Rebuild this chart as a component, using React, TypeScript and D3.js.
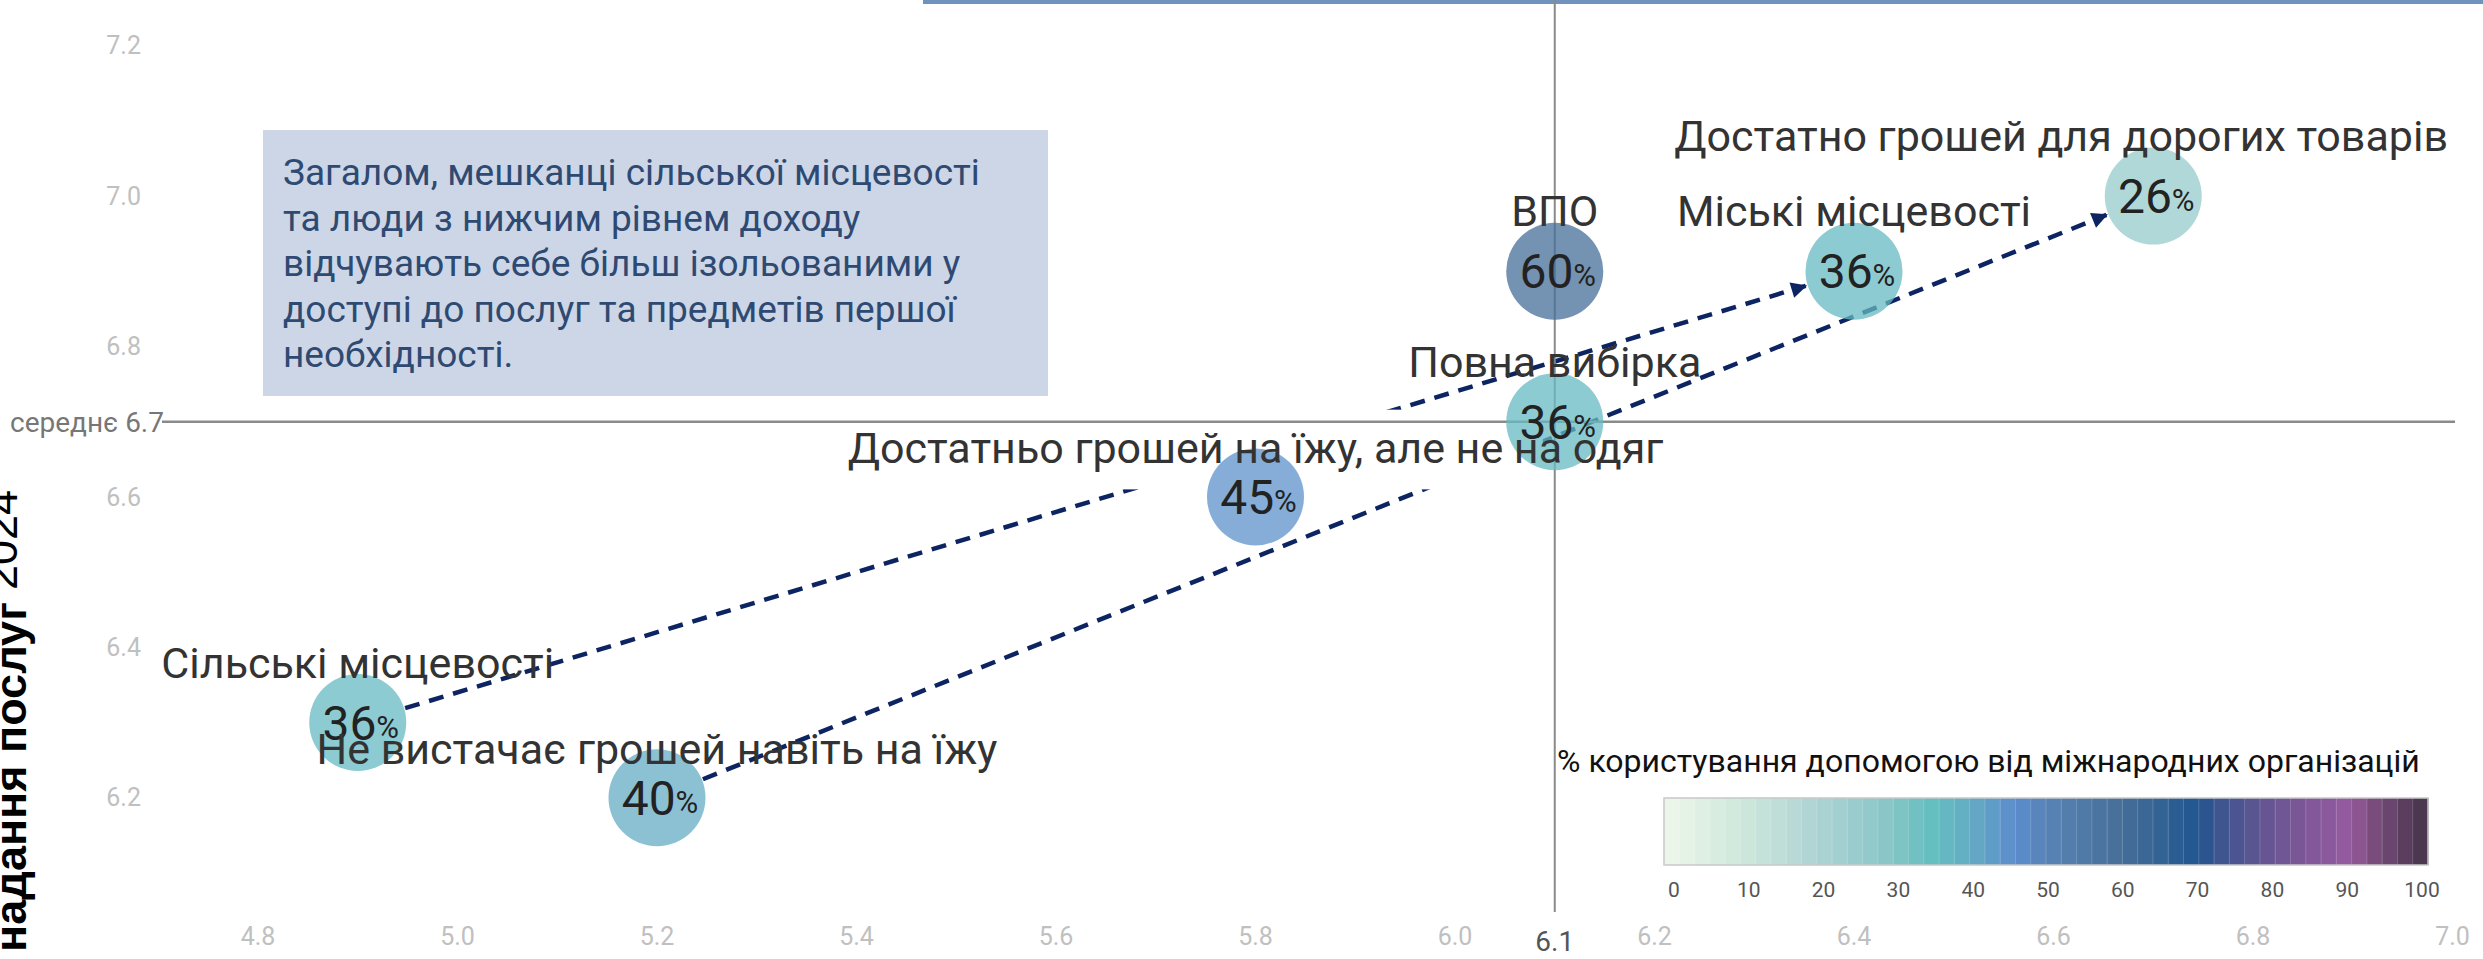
import React, { useEffect, useRef } from "react";
import * as d3 from "d3";

// ---------- data ----------
const groups = [
  "Сільські місцевості",
  "Не вистачає грошей навіть на їжу",
  "Достатньо грошей на їжу, але не на одяг",
  "Повна вибірка",
  "ВПО",
  "Міські місцевості",
  "Достатно грошей для дорогих товарів",
];
const accessScore = [4.9, 5.2, 5.8, 6.1, 6.1, 6.4, 6.7];
const serviceScore = [6.3, 6.2, 6.6, 6.7, 6.9, 6.9, 7.0];
const aidShare = [36, 40, 45, 36, 60, 36, 26];

const xTicks = [4.8, 5.0, 5.2, 5.4, 5.6, 5.8, 6.0, 6.2, 6.4, 6.6, 6.8, 7.0];
const yTicks = [6.2, 6.4, 6.6, 6.8, 7.0, 7.2];
const meanX = 6.1;
const meanY = 6.7;
const meanYLabel = "середнє 6.7";

const legendTitle = "% користування допомогою від міжнародних організацій";
const legendTicks = [0, 10, 20, 30, 40, 50, 60, 70, 80, 90, 100];
const colorStopValues = [0, 10, 20, 30, 35, 40, 46, 50, 60, 70, 72, 80, 90, 92, 100];
const colorStopColors = [
  "#eef6ea", "#cfe8dc", "#aed3d4", "#86c5c5", "#65bec0", "#64acc4", "#5b8ccc",
  "#5883b6", "#466e98", "#1f5590", "#385590", "#6c5592", "#975ba1", "#804f82", "#443349",
];

const arrowFrom = ["Сільські місцевості", "Не вистачає грошей навіть на їжу"];
const arrowTo = ["Міські місцевості", "Достатно грошей для дорогих товарів"];

const noteLines = [
  "Загалом, мешканці сільської місцевості",
  "та люди з нижчим рівнем доходу",
  "відчувають себе більш ізольованими у",
  "доступі до послуг та предметів першої",
  "необхідності.",
];

const yTitleBold = "Індекс надання послуг";
const yTitleYear = "2024";

// ---------- layout (not data) ----------
const W = 2483;
const H = 959;
const FONT = "Roboto, 'Noto Sans', sans-serif";
const TITLE_FONT = "'Liberation Sans', Arial, sans-serif";
const labelDy = [-45, -34, -34, -45, -45, -45, -45];

export default function App() {
  const ref = useRef<SVGSVGElement | null>(null);

  useEffect(() => {
    const svg = d3.select(ref.current);
    svg.selectAll("*").remove();

    const x = d3.scaleLinear().domain([4.8, 7.0]).range([258, 2452.5]);
    const y = d3.scaleLinear().domain([6.2, 7.2]).range([797.7, 45.7]);
    const color = d3
      .scaleLinear<string>()
      .domain(colorStopValues)
      .range(colorStopColors)
      .interpolate(d3.interpolateRgb);
    const R = 48.5;
    const plotRight = 2448;

    const defs = svg.append("defs");
    defs
      .append("marker")
      .attr("id", "arrowHead")
      .attr("viewBox", "0 0 10 10")
      .attr("refX", 9)
      .attr("refY", 5)
      .attr("markerWidth", 20)
      .attr("markerHeight", 16)
      .attr("markerUnits", "userSpaceOnUse")
      .attr("orient", "auto")
      .append("path")
      .attr("d", "M0,0 L10,5 L0,10 Z")
      .attr("fill", "#0c2461");

    // top decorative rule
    svg.append("rect").attr("x", 923).attr("y", 0).attr("width", W - 923).attr("height", 4).attr("fill", "#7093bd");

    // annotation box
    const note = svg.append("g");
    note.append("rect").attr("x", 263).attr("y", 130).attr("width", 785).attr("height", 266).attr("fill", "#cdd6e6");
    note
      .selectAll("text")
      .data(noteLines)
      .join("text")
      .attr("x", 283)
      .attr("y", (_d, i) => 185 + i * 45.5)
      .attr("font-family", FONT)
      .attr("font-size", 37)
      .attr("fill", "#2f4a72")
      .text((d) => d);

    // tick labels
    svg
      .append("g")
      .selectAll("text")
      .data(yTicks)
      .join("text")
      .attr("x", 141)
      .attr("y", (d) => y(d))
      .attr("dy", "0.35em")
      .attr("text-anchor", "end")
      .attr("font-family", FONT)
      .attr("font-size", 25)
      .attr("fill", "#c0c0c0")
      .text((d) => d.toFixed(1));
    svg
      .append("g")
      .selectAll("text")
      .data(xTicks)
      .join("text")
      .attr("x", (d) => x(d))
      .attr("y", 936)
      .attr("dy", "0.35em")
      .attr("text-anchor", "middle")
      .attr("font-family", FONT)
      .attr("font-size", 25)
      .attr("fill", "#c0c0c0")
      .text((d) => d.toFixed(1));

    // arrows
    const idx = (name: string) => groups.indexOf(name);
    const arrowG = svg.append("g");
    arrowFrom.forEach((from, k) => {
      const a = idx(from);
      const b = idx(arrowTo[k]);
      const x0 = x(accessScore[a]);
      const y0 = y(serviceScore[a]);
      const x1 = x(accessScore[b]);
      const y1 = y(serviceScore[b]);
      const len = Math.hypot(x1 - x0, y1 - y0);
      const ux = (x1 - x0) / len;
      const uy = (y1 - y0) / len;
      arrowG
        .append("line")
        .attr("x1", x0 + ux * (R + 1))
        .attr("y1", y0 + uy * (R + 1))
        .attr("x2", x1 - ux * (R + 2))
        .attr("y2", y1 - uy * (R + 2))
        .attr("stroke", "#0c2461")
        .attr("stroke-width", 4.5)
        .attr("stroke-dasharray", "15 10")
        .attr("marker-end", "url(#arrowHead)");
    });

    // white halo behind the middle label
    svg
      .append("rect")
      .attr("x", x(5.55))
      .attr("y", y(6.716))
      .attr("width", x(6.088) - x(5.55))
      .attr("height", y(6.61) - y(6.716))
      .attr("fill", "#ffffff");

    // mean lines
    svg
      .append("line")
      .attr("x1", 162)
      .attr("x2", 2455)
      .attr("y1", y(meanY))
      .attr("y2", y(meanY))
      .attr("stroke", "#8a8a8a")
      .attr("stroke-width", 2.5);
    svg
      .append("line")
      .attr("x1", x(meanX))
      .attr("x2", x(meanX))
      .attr("y1", 0)
      .attr("y2", 912)
      .attr("stroke", "#8a8a8a")
      .attr("stroke-width", 2);
    svg
      .append("text")
      .attr("x", 10)
      .attr("y", y(meanY))
      .attr("dy", "0.35em")
      .attr("font-family", FONT)
      .attr("font-size", 28)
      .attr("fill", "#777")
      .text(meanYLabel);
    svg
      .append("text")
      .attr("x", x(meanX))
      .attr("y", 941)
      .attr("dy", "0.35em")
      .attr("text-anchor", "middle")
      .attr("font-family", FONT)
      .attr("font-size", 28)
      .attr("fill", "#555")
      .text(String(meanX));

    // bubbles
    const pts = groups.map((g, i) => ({ g, i, cx: x(accessScore[i]), cy: y(serviceScore[i]), v: aidShare[i] }));
    svg
      .append("g")
      .selectAll("circle")
      .data(pts)
      .join("circle")
      .attr("cx", (d) => d.cx)
      .attr("cy", (d) => d.cy)
      .attr("r", R)
      .attr("fill", (d) => color(d.v))
      .attr("fill-opacity", 0.75);

    // percentages
    const pct = svg
      .append("g")
      .selectAll("text")
      .data(pts)
      .join("text")
      .attr("x", (d) => d.cx + 3)
      .attr("y", (d) => d.cy + 17)
      .attr("text-anchor", "middle")
      .attr("font-family", FONT)
      .attr("fill", "#222");
    pct.append("tspan").attr("font-size", 48).text((d) => String(d.v));
    pct.append("tspan").attr("font-size", 31).attr("dy", -2).text("%");

    // labels
    const labels = svg
      .append("g")
      .selectAll("text")
      .data(pts)
      .join("text")
      .attr("x", (d) => d.cx)
      .attr("y", (d) => d.cy + labelDy[d.i])
      .attr("text-anchor", "middle")
      .attr("font-family", FONT)
      .attr("font-size", 43)
      .attr("fill", "#333")
      .text((d) => d.g);
    labels.each(function (d) {
      const el = this as SVGTextElement;
      const w = el.getComputedTextLength();
      if (d.cx + w / 2 > plotRight) d3.select(el).attr("x", plotRight - w / 2);
    });

    // legend
    const lx = d3.scaleLinear().domain([0, 100]).range([1674, 2422]);
    const barX0 = lx(0) - 10;
    const barX1 = lx(100) + 6;
    const legend = svg.append("g");
    legend
      .append("text")
      .attr("x", 1557)
      .attr("y", 772)
      .attr("font-family", FONT)
      .attr("font-size", 32)
      .attr("fill", "#111")
      .text(legendTitle);
    const steps = d3.range(0, 100, 2);
    const sw = (barX1 - barX0) / steps.length;
    legend
      .selectAll("rect.slice")
      .data(steps)
      .join("rect")
      .attr("class", "slice")
      .attr("x", (_d, i) => barX0 + i * sw)
      .attr("y", 798)
      .attr("width", sw + 0.5)
      .attr("height", 67)
      .attr("fill", (d) => color(d + 1));
    legend
      .selectAll("line.sep")
      .data(steps.slice(1))
      .join("line")
      .attr("class", "sep")
      .attr("x1", (_d, i) => barX0 + (i + 1) * sw)
      .attr("x2", (_d, i) => barX0 + (i + 1) * sw)
      .attr("y1", 798)
      .attr("y2", 865)
      .attr("stroke", "#ffffff")
      .attr("stroke-opacity", 0.18)
      .attr("stroke-width", 1);
    legend
      .append("rect")
      .attr("x", barX0)
      .attr("y", 798)
      .attr("width", barX1 - barX0)
      .attr("height", 67)
      .attr("fill", "none")
      .attr("stroke", "#c8c8c8")
      .attr("stroke-width", 1.5);
    legend
      .selectAll("text.tick")
      .data(legendTicks)
      .join("text")
      .attr("class", "tick")
      .attr("x", (d) => lx(d))
      .attr("y", 890)
      .attr("dy", "0.35em")
      .attr("text-anchor", "middle")
      .attr("font-family", FONT)
      .attr("font-size", 21)
      .attr("fill", "#555")
      .text((d) => String(d));

    // y axis title (rotated, partially outside)
    const yt = svg
      .append("text")
      .attr("transform", "translate(26,490) rotate(-90)")
      .attr("text-anchor", "end")
      .attr("font-family", TITLE_FONT)
      .attr("font-size", 45)
      .attr("fill", "#000");
    yt.append("tspan").attr("font-weight", 700).text(yTitleBold);
    yt.append("tspan").attr("dx", 12).attr("dy", -9).attr("font-weight", 400).text(yTitleYear);
  }, []);

  return (
    <svg
      ref={ref}
      width={W}
      height={H}
      viewBox={`0 0 ${W} ${H}`}
      style={{ position: "absolute", left: 0, top: 0, background: "#fff" }}
    />
  );
}
